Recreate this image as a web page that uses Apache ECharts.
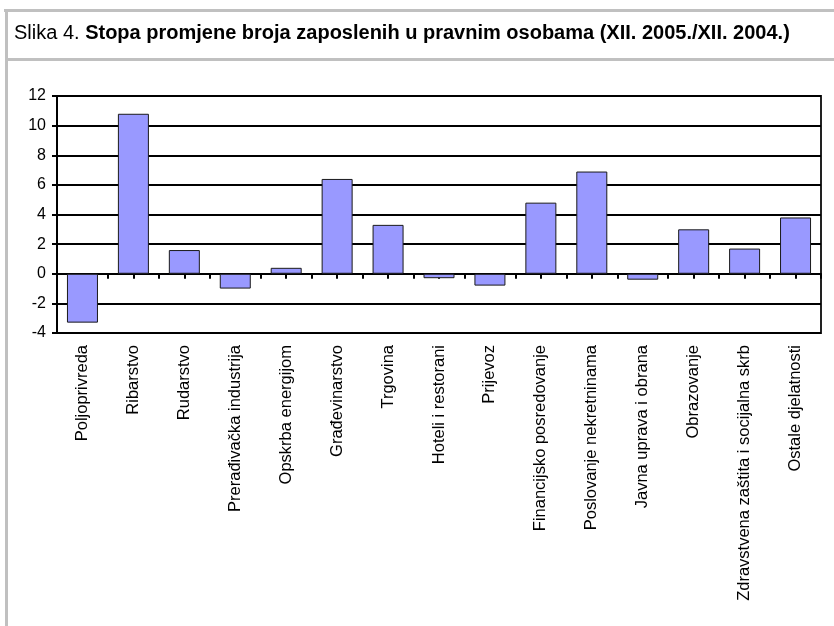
<!DOCTYPE html>
<html>
<head>
<meta charset="utf-8">
<script src="https://cdn.jsdelivr.net/npm/echarts@6/dist/echarts.min.js"></script>
<style>
  html, body { margin: 0; padding: 0; background: #fff; }
  #chart { width: 834px; height: 626px; }
</style>
</head>
<body>
<div id="chart"></div>
<script>
// podaci: stopa promjene broja zaposlenih (%), XII. 2005./XII. 2004.
const categories = [
  "Poljoprivreda", "Ribarstvo", "Rudarstvo", "Prerađivačka industrija",
  "Opskrba energijom", "Građevinarstvo", "Trgovina", "Hoteli i restorani",
  "Prijevoz", "Financijsko posredovanje", "Poslovanje nekretninama",
  "Javna uprava i obrana", "Obrazovanje", "Zdravstvena zaštita i socijalna skrb",
  "Ostale djelatnosti"
];
const values = [-3.3, 10.8, 1.6, -1.0, 0.4, 6.4, 3.3, -0.3, -0.8, 4.8, 6.9, -0.4, 3.0, 1.7, 3.8];
const yTicks = { min: -4, max: 12, step: 2 };
const titleLead = "Slika 4. ";
const titleMain = "Stopa promjene broja zaposlenih u pravnim osobama (XII. 2005./XII. 2004.)";

// pola kategorije -> kvačice na granicama i u sredini
const halfSlots = categories.flatMap(c => [c, c]);

const font = "'Liberation Sans', Arial, sans-serif";
const frame = "#c0c0c0";

let chart = echarts.init(document.getElementById("chart"));
chart.setOption({
  animation: false,
  textStyle: { fontFamily: font },
  title: {
    left: 9,
    top: 18,
    text: "{n|" + titleLead + "}{b|" + titleMain + "}",
    textStyle: {
      fontWeight: "normal",
      rich: {
        n: { fontSize: 20, color: "#000", fontWeight: "normal", fontFamily: font },
        b: { fontSize: 20, color: "#000", fontWeight: "bold", fontFamily: font }
      }
    }
  },
  graphic: [
    { type: "rect", shape: { x: 4, y: 9, width: 830, height: 3 }, style: { fill: frame } },
    { type: "rect", shape: { x: 5, y: 9, width: 3, height: 617 }, style: { fill: frame } },
    { type: "rect", shape: { x: 5, y: 58, width: 829, height: 3 }, style: { fill: frame } }
  ],
  grid: {
    left: 57,
    right: 13,
    top: 96,
    bottom: 293,
    show: true,
    borderColor: "#222",
    borderWidth: 2
  },
  xAxis: [
    {
      type: "category",
      position: "bottom",
      data: categories,
      axisLine: { show: false, onZero: false },
      axisTick: { show: false },
      axisLabel: {
        rotate: 90,
        margin: 12,
        interval: 0,
        fontSize: 16.5,
        color: "#000",
        fontFamily: font
      }
    },
    {
      type: "category",
      position: "top",
      data: halfSlots,
      axisLine: { show: true, onZero: true, lineStyle: { color: "#000", width: 2 } },
      axisTick: { show: true, inside: true, length: 5, interval: 0, lineStyle: { color: "#000", width: 2 } },
      axisLabel: { show: false }
    }
  ],
  yAxis: {
    type: "value",
    min: yTicks.min,
    max: yTicks.max,
    interval: yTicks.step,
    axisLine: { show: true, lineStyle: { color: "#000", width: 2 } },
    axisTick: { show: true, length: 5, lineStyle: { color: "#000", width: 2 } },
    axisLabel: { fontSize: 16, color: "#000", margin: 11, fontFamily: font },
    splitLine: { show: true, lineStyle: { color: "#000", width: 2 } }
  },
  series: [
    {
      type: "bar",
      xAxisIndex: 0,
      data: values,
      barWidth: 31,
      itemStyle: { color: "#9999ff", borderColor: "#1a1a1a", borderWidth: 1 }
    }
  ]
});
</script>
</body>
</html>
